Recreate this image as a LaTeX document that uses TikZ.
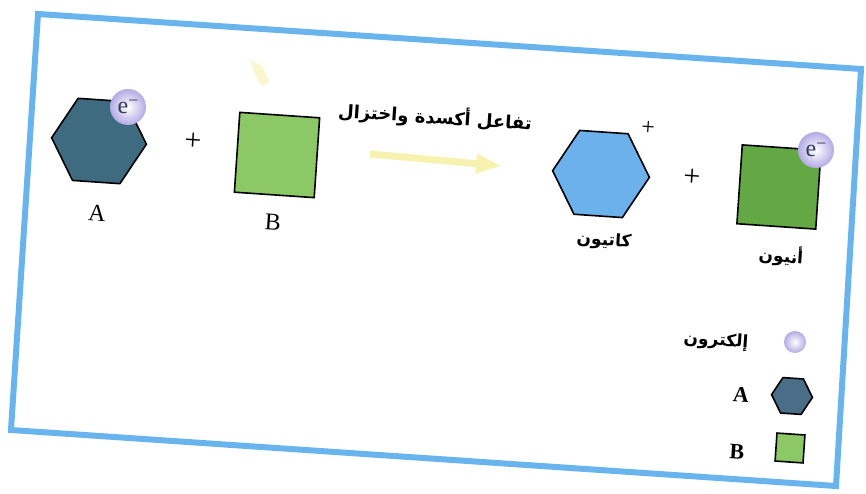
\documentclass[tikz,border=0pt]{standalone}
\usepackage{fontspec}
\setmainfont{Liberation Serif}
\newfontfamily\arabicfont[Script=Arabic]{DejaVu Sans}
\TeXXeTstate=1
\usetikzlibrary{shapes.geometric,arrows.meta}
\definecolor{frameblue}{HTML}{6AB4EE}
\definecolor{hexdark}{HTML}{3F6B80}
\definecolor{hexlegend}{HTML}{4A6E88}
\definecolor{greenlight}{HTML}{8CC866}
\definecolor{greendark}{HTML}{64A846}
\definecolor{cationblue}{HTML}{6CB0EC}
\definecolor{lavender}{HTML}{B4AAE4}
\definecolor{paleyellow}{HTML}{F7F2B0}
\definecolor{etext}{HTML}{3A3A55}
\begin{document}
\begin{tikzpicture}[x=1pt,y=-1pt,
  hexa/.style={regular polygon, regular polygon sides=6, draw=black, line width=1.6pt, inner sep=0pt, rotate=-3.9},
  sqbox/.style={rectangle, draw=black, line width=1.6pt, inner sep=0pt, rotate=-3.9},
  electron/.style={circle, inner sep=0pt, inner color=white, outer color=lavender, text=etext, font=\fontsize{24}{24}\selectfont},
  lbl/.style={font=\fontsize{24}{24}\selectfont, rotate=-3.9},
  albl/.style={font=\fontsize{17}{20}\selectfont\arabicfont\bfseries, rotate=-3.9},
  plus/.style={font=\fontsize{30}{30}\selectfont, rotate=-3.9}]
\useasboundingbox (0,0) rectangle (866,494);
\fill[white] (0,0) rectangle (866,494);
% frame
\draw[frameblue, line width=6pt, line join=miter] (38,14) -- (861,69) -- (836,486) -- (11,430) -- cycle;
% faint yellow smudge
\fill[paleyellow, opacity=0.6] (250,60) -- (262,66) -- (270,82) -- (262,86) -- (255,74) -- cycle;
% left side
\node[hexa, fill=hexdark, minimum size=95pt] (hexA) at (99,141) {};
\node[electron, minimum size=36pt] (eA) at (128,107) {e\raisebox{7pt}{\fontsize{18}{18}\selectfont −}};
\node[plus] (p1) at (193,142) {+};
\node[sqbox, fill=greenlight, minimum size=80pt] (sqB) at (277,155) {};
\node[lbl] (lA) at (97,213) {A};
\node[lbl] (lB) at (273,222) {B};
% reaction arrow
\node[font=\fontsize{18}{20}\selectfont\arabicfont\bfseries, rotate=-3.9] (title) at (435,117) {\beginR تفاعل أكسدة واختزال\endR};
\coordinate (arS) at (370,154);
\coordinate (arE) at (502,166);
\draw[paleyellow, line width=7pt, -{Triangle[width=18pt,length=26pt]}] (arS) -- (arE);
% right side
\node[hexa, fill=cationblue, minimum size=97pt] (hexC) at (601,174) {};
\node[plus, font=\fontsize{24}{24}\selectfont] (pc) at (648,128) {+};
\node[plus] (p2) at (692,178) {+};
\node[sqbox, fill=greendark, minimum size=79pt] (sqAn) at (779,187) {};
\node[electron, minimum size=36pt] (eB) at (816,150) {e\raisebox{7pt}{\fontsize{18}{18}\selectfont −}};
\node[albl] (lcat) at (604,241) {\beginR كاتيون\endR};
\node[albl] (lan) at (781,256) {\beginR أنيون\endR};
% legend
\node[electron, minimum size=22pt] (le) at (795,342) {};
\node[albl] (lel) at (716,341) {\beginR إلكترون\endR};
\node[hexa, fill=hexlegend, minimum size=41pt] (lh) at (792,396) {};
\node[lbl, font=\fontsize{22}{22}\selectfont\bfseries] (lhA) at (741,395) {A};
\node[sqbox, fill=greenlight, minimum size=28pt] (ls) at (790,448) {};
\node[lbl, font=\fontsize{22}{22}\selectfont\bfseries] (lsB) at (737,452) {B};
\end{tikzpicture}
\end{document}
